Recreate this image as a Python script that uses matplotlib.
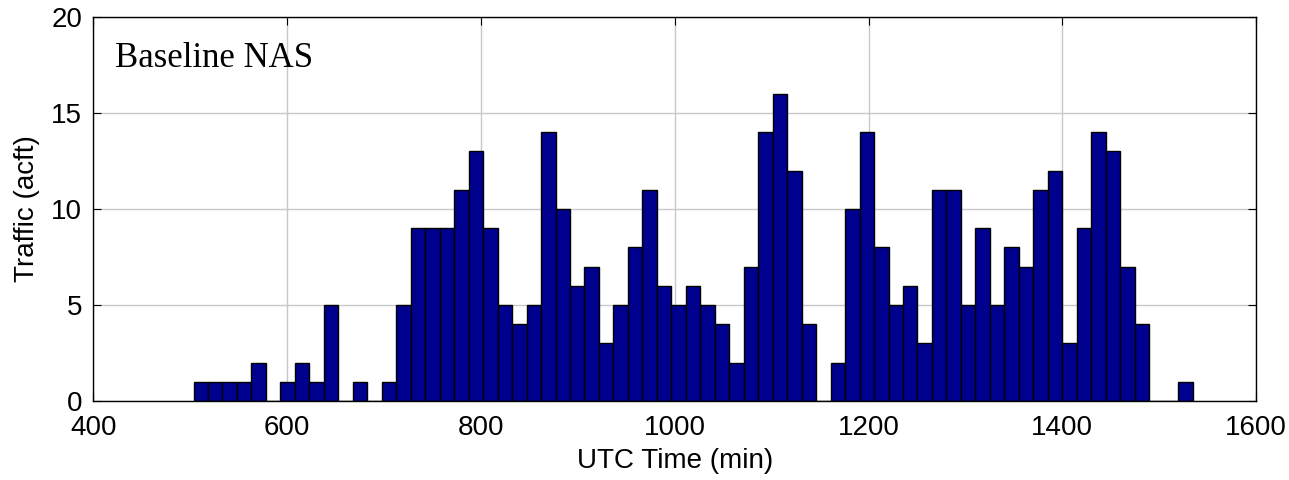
import numpy as np
import matplotlib
matplotlib.use("Agg")
import matplotlib.pyplot as plt

# histogram of traffic counts, 69 bins over the observed time range
time_start = 503.3
time_end = 1534.4
traffic = [1, 1, 1, 1, 2, 0, 1, 2, 1, 5,
           0, 1, 0, 1, 5, 9, 9, 9, 11, 13,
           9, 5, 4, 5, 14, 10, 6, 7, 3, 5,
           8, 11, 6, 5, 6, 5, 4, 2, 7, 14,
           16, 12, 4, 0, 2, 10, 14, 8, 5, 6,
           3, 11, 11, 5, 9, 5, 8, 7, 11, 12,
           3, 9, 14, 13, 7, 4, 0, 0, 1]
x_ticks = [400, 600, 800, 1000, 1200, 1400, 1600]
y_ticks = [0, 5, 10, 15, 20]
label = "Baseline NAS"

plt.rcParams["font.family"] = ["Liberation Sans", "DejaVu Sans"]

edges = np.linspace(time_start, time_end, len(traffic) + 1)

fig = plt.figure(figsize=(12.89, 4.8), dpi=100)
ax = fig.add_axes([0.0725, 0.1646, 0.902, 0.8000])

ax.bar(edges[:-1], traffic, width=np.diff(edges), align="edge",
       color="#00008F", edgecolor="black", linewidth=1.0, zorder=3)

ax.set_xlim(400, 1600)
ax.set_ylim(0, 20)
ax.set_xticks(x_ticks)
ax.set_yticks(y_ticks)
ax.grid(True, color="#c8c8c8", linewidth=1.0, zorder=0)
ax.tick_params(direction="in", top=True, right=True, labelsize=20, length=6)
ax.tick_params(axis="x", pad=10)
ax.tick_params(axis="y", pad=8)
for s in ax.spines.values():
    s.set_linewidth(1.0)
    s.set_zorder(4)

ax.set_xlabel("UTC Time (min)", fontsize=20, labelpad=5)
ax.set_ylabel("Traffic (acft)", fontsize=20, labelpad=8)
ax.text(0.0186, 0.870, label, transform=ax.transAxes, fontsize=25,
        family="Liberation Serif", va="baseline", ha="left", zorder=5)

fig.savefig("out.png", dpi=100)
